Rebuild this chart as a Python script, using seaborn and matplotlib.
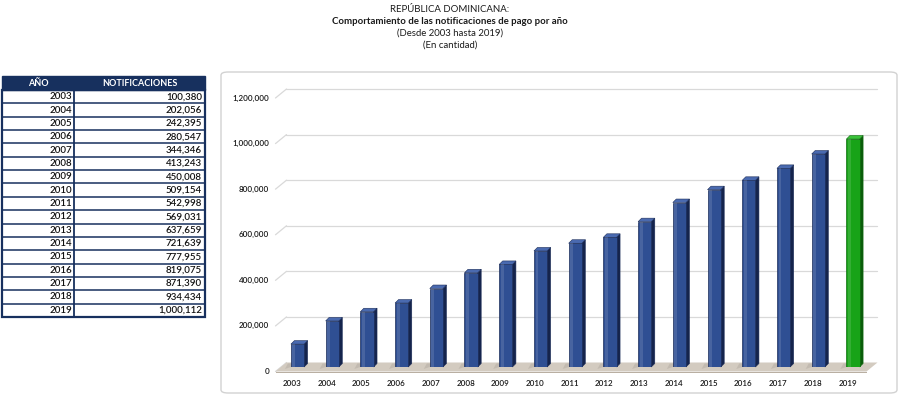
import numpy as np
import pandas as pd
import seaborn as sns
import matplotlib.pyplot as plt
from matplotlib.patches import Polygon, FancyBboxPatch, Rectangle

years = ['2003', '2004', '2005', '2006', '2007', '2008', '2009', '2010', '2011',
         '2012', '2013', '2014', '2015', '2016', '2017', '2018', '2019']
notificaciones = [100380, 202056, 242395, 280547, 344346, 413243, 450008, 509154, 542998,
                  569031, 637659, 721639, 777955, 819075, 871390, 934434, 1000112]
y_ticks = [0, 200000, 400000, 600000, 800000, 1000000, 1200000]
title_lines = ['REPÚBLICA DOMINICANA:',
               'Comportamiento de las notificaciones de pago por año',
               '(Desde 2003 hasta 2019)',
               '(En cantidad)']
col_headers = ['AÑO', 'NOTIFICACIONES']

sns.set_style('white')
plt.rcParams['font.family'] = ['Lato', 'DejaVu Sans']

W, H = 900, 396
fig = plt.figure(figsize=(9, 3.96), dpi=100)


def fx(px):
    return px / W


def fy(py):
    return 1 - py / H


# titles
for i, (line, yy) in enumerate(zip(title_lines, [9, 22, 33.5, 45])):
    fig.text(0.5, fy(yy), line, ha='center', va='center', fontsize=6.9,
             fontweight='bold' if i == 1 else 'normal', color='#1a1a1a')

# ---- table on the left ----
navy = '#17305e'
tx0, tx1, tcol = 1.5, 205, 74
head_top, head_bot, row_h = 76, 90, 13.35
fig.patches.append(Rectangle((fx(tx0), fy(head_bot)), fx(tx1 - tx0), (head_bot - head_top) / H,
                             transform=fig.transFigure, facecolor=navy, edgecolor=navy, lw=1))
fig.text(fx(38), fy(83.5), col_headers[0], ha='center', va='center', fontsize=6.5,
         fontweight='bold', color='white')
fig.text(fx(140), fy(83.5), col_headers[1], ha='center', va='center', fontsize=6.5,
         fontweight='bold', color='white')
tab_bot = head_bot + row_h * len(years)
for i, (yr, v) in enumerate(zip(years, notificaciones)):
    yc = head_bot + row_h * (i + 0.5)
    fig.text(fx(72), fy(yc), yr, ha='right', va='center', fontsize=7, fontweight='semibold',
             color='#111111')
    fig.text(fx(202), fy(yc), f'{v:,}', ha='right', va='center', fontsize=7,
             fontweight='semibold', color='#111111')
    if i > 0:
        fig.lines.append(plt.Line2D([fx(tx0), fx(tx1)], [fy(head_bot + row_h * i)] * 2,
                                    transform=fig.transFigure, color=navy, lw=1.1))
fig.lines.append(plt.Line2D([fx(tcol), fx(tcol)], [fy(head_bot), fy(tab_bot)],
                            transform=fig.transFigure, color=navy, lw=1.3))
fig.patches.append(Rectangle((fx(tx0), fy(tab_bot)), fx(tx1 - tx0), (tab_bot - head_bot) / H,
                             transform=fig.transFigure, facecolor='none', edgecolor=navy, lw=1.6))

# ---- chart frame ----
fig.patches.append(FancyBboxPatch((fx(221), fy(393)), fx(676), (393 - 72) / H,
                                  boxstyle='round,pad=0,rounding_size=0.008',
                                  transform=fig.transFigure, facecolor='none',
                                  edgecolor='#d2d2d2', lw=1.0, zorder=-1))

# axes in the "bar plane"
ax_l, ax_r, ax_t, ax_b = 281, 872, 93.5, 367
ax = fig.add_axes([fx(ax_l), fy(ax_b), fx(ax_r - ax_l), (ax_b - ax_t) / H])
ax.patch.set_alpha(0)
ppu_x = 34.72
x_lo = -(297.5 - ax_l) / ppu_x
x_hi = 16 + (ax_r - 853) / ppu_x
y_max = 1200000
ppu_y = (ax_b - ax_t) / y_max


def dx(px):
    return px / ppu_x


def dy(px):
    return px / ppu_y


df = pd.DataFrame({'year': years, 'value': notificaciones})
df['grupo'] = ['ultimo' if y == years[-1] else 'resto' for y in years]
front_col = {'resto': '#2f4f93', 'ultimo': '#18a318'}
side_col = {'resto': '#15244c', 'ultimo': '#0b5c0b'}
top_col = {'resto': '#4a6ab0', 'ultimo': '#3ac23a'}
edge_col = {'resto': '#1b2c58', 'ultimo': '#0e6a0e'}

sns.barplot(data=df, x='year', y='value', hue='grupo', palette=front_col, dodge=False,
            legend=False, width=0.38, ax=ax, zorder=5, saturation=1)

ax.set_xlim(x_lo, x_hi)
ax.set_ylim(0, y_max)
ax.set_xticks([])
ax.set_yticks([])
ax.set_xlabel('')
ax.set_ylabel('')
sns.despine(ax=ax, left=True, bottom=True)

# back wall gridlines + diagonals
fdx, fdy = -5.5, -4.5   # front plane offset (px)
bdx, bdy = 5.5, 4.5     # back plane offset (px)
for t in y_ticks:
    if t > 0:
        ax.plot([x_lo + dx(bdx), x_hi + dx(bdx)], [t + dy(bdy)] * 2, color='#d9d9d9',
                lw=0.9, zorder=1, clip_on=False)
    ax.plot([x_lo + dx(fdx), x_lo + dx(bdx)], [t + dy(fdy), t + dy(bdy)], color='#d9d9d9',
            lw=0.9, zorder=1, clip_on=False)
    ax.text(x_lo + dx(-12), t + dy(fdy), f'{t:,}', ha='right', va='center', fontsize=5.8,
            fontweight='semibold', color='#1a1a1a', clip_on=False)

# floor
floor = [(x_lo + dx(fdx), dy(fdy)), (x_hi + dx(fdx), dy(fdy)),
         (x_hi + dx(bdx), dy(bdy)), (x_lo + dx(bdx), dy(bdy))]
ax.add_patch(Polygon(floor, closed=True, facecolor='#d3cbc0', edgecolor='none',
                     zorder=2, clip_on=False))
ax.add_patch(Polygon([(x_lo + dx(fdx), dy(fdy)), (x_hi + dx(fdx), dy(fdy)),
                      (x_hi + dx(fdx), dy(fdy - 1.5)), (x_lo + dx(fdx), dy(fdy - 1.5))],
                     closed=True, facecolor='#b9afa2', edgecolor='none', zorder=2, clip_on=False))

# 3d faces of the bars
dpx, dpy = 3.5, 3.5
for bar, g in zip(ax.patches[:len(years)], df['grupo']):
    x0 = bar.get_x()
    w = bar.get_width()
    h = bar.get_height()
    x1 = x0 + w
    bar.set_edgecolor(edge_col[g])
    bar.set_linewidth(0.5)
    # shadow on floor
    ax.add_patch(Polygon([(x0 - dx(6), dy(-2)), (x0, 0), (x1 + dx(dpx), dy(dpy)),
                          (x0 - dx(3), dy(3.5))],
                         closed=True, facecolor='#b8b0a6', edgecolor='none', alpha=0.6,
                         zorder=3, clip_on=False))
    ax.add_patch(Polygon([(x1, 0), (x1 + dx(dpx), dy(dpy)), (x1 + dx(dpx), h + dy(dpy)), (x1, h)],
                         closed=True, facecolor=side_col[g], edgecolor=edge_col[g], lw=0.4,
                         zorder=4, clip_on=False))
    ax.add_patch(Polygon([(x0, h), (x1, h), (x1 + dx(dpx), h + dy(dpy)), (x0 + dx(dpx), h + dy(dpy))],
                         closed=True, facecolor=top_col[g], edgecolor=edge_col[g], lw=0.4,
                         zorder=6, clip_on=False))
    # highlight strip on front face
    ax.add_patch(Rectangle((x0 + w * 0.12, 0), w * 0.22, h, facecolor='white', alpha=0.12,
                           edgecolor='none', zorder=6))

for i, yr in enumerate(years):
    ax.text(i + dx(fdx), -dy(16), yr, ha='center', va='center', fontsize=5.8,
            fontweight='semibold', color='#1a1a1a', clip_on=False)

fig.savefig('out.png', dpi=100)
